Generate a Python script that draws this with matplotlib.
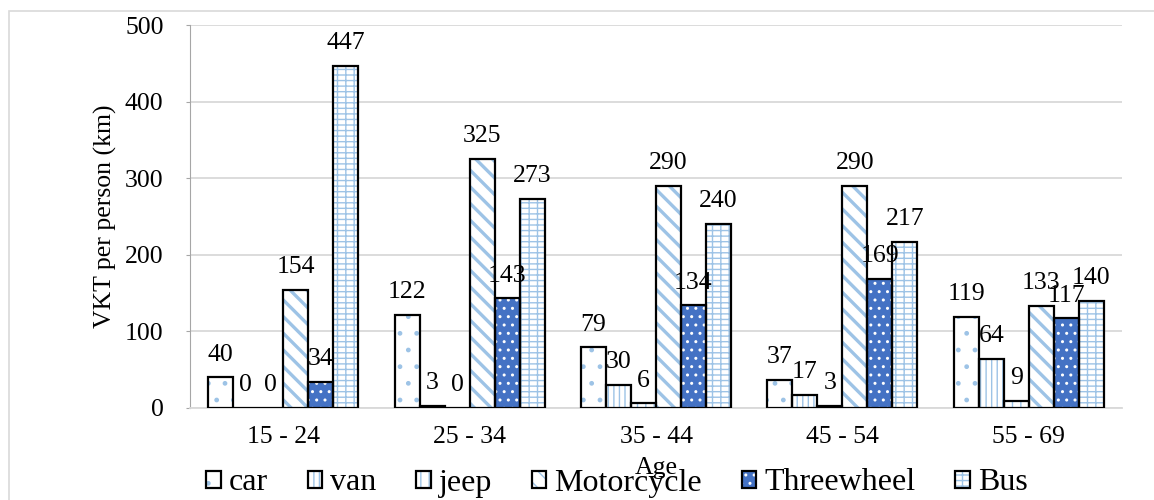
import numpy as np
import matplotlib
matplotlib.use("Agg")
import matplotlib.pyplot as plt
from matplotlib.patches import Rectangle

# Kilomètres parcourus par personne, par tranche d'âge et par mode
groupes = ["15 - 24", "25 - 34", "35 - 44", "45 - 54", "55 - 69"]
modes = ["car", "van", "jeep", "Motorcycle", "Threewheel", "Bus"]

car = [40, 122, 79, 37, 119]
van = [0, 3, 30, 17, 64]
jeep = [0, 0, 6, 3, 9]
motorcycle = [154, 325, 290, 290, 133]
threewheel = [34, 143, 134, 169, 117]
bus = [447, 273, 240, 217, 140]

series = [car, van, jeep, motorcycle, threewheel, bus]

y_ticks = [0, 100, 200, 300, 400, 500]

# remplissage, couleur du motif, motif, épaisseur du motif
BLEU_CLAIR = "#9dc3e6"
styles = [
    ("white", BLEU_CLAIR, ".", 1.0),
    ("white", BLEU_CLAIR, "|||", 1.0),
    ("white", BLEU_CLAIR, "||", 1.0),
    ("white", BLEU_CLAIR, "\\\\", 2.4),
    ("#4472c4", "white", "..", 1.0),
    ("white", BLEU_CLAIR, "---||", 1.0),
]

plt.rcParams["font.family"] = ["Liberation Serif", "DejaVu Serif"]
plt.rcParams["font.size"] = 18.5

fig = plt.figure(figsize=(11.54, 5.0), dpi=100)
ax = fig.add_axes([190 / 1154, 1 - 408 / 500, (1122 - 190) / 1154, (408 - 25) / 500])

x = np.arange(len(groupes))
w = 0.134

handles = []
for i, (valeurs, (fond, couleur, motif, lw)) in enumerate(zip(series, styles)):
    pos = x + (i - 2.5) * w
    plt.rcParams["hatch.linewidth"] = lw
    motifs = ax.bar(pos, valeurs, w, color=fond, edgecolor=couleur,
                    hatch=motif, linewidth=0, zorder=3)
    for p in motifs:
        if hasattr(p, "set_hatch_linewidth"):
            p.set_hatch_linewidth(lw)
    contours = ax.bar(pos, valeurs, w, fill=False, edgecolor="black",
                      linewidth=1.6, zorder=4)
    handles.append((motifs[0], contours[0]))
    for xi, v in zip(pos, valeurs):
        ax.annotate(str(v), (xi, v), xytext=(0, 12), textcoords="offset points",
                    ha="center", va="baseline", fontsize=18.5, zorder=5)

ax.set_xlim(-0.5, len(groupes) - 0.5)
ax.set_ylim(0, 500)
ax.set_yticks(y_ticks)
ax.set_xticks(x)
ax.set_xticklabels(groupes)

ax.grid(axis="y", color="#d9d9d9", linewidth=1.3, zorder=0)
for cote in ["top", "right"]:
    ax.spines[cote].set_visible(False)
ax.spines["left"].set_color("#a6a6a6")
ax.spines["bottom"].set_color("#d9d9d9")
ax.spines["bottom"].set_linewidth(1.3)
ax.tick_params(axis="y", length=3, color="#a6a6a6", pad=16)
ax.tick_params(axis="x", length=0, pad=13)

ax.set_ylabel("VKT per person (km)", labelpad=6)
ax.set_xlabel("Age")
ax.xaxis.set_label_coords(0.5, -0.128)

fig.legend(handles, modes, loc="center", ncol=6,
           bbox_to_anchor=(617 / 1154, 1 - 483 / 500), frameon=False,
           handlelength=0.45, handleheight=0.45, handletextpad=0.25,
           columnspacing=1.25, borderpad=0, fontsize=23)

# cadre gris clair autour du graphique
fig.patches.append(Rectangle((9 / 1154, -0.1), 1.2, 1 - 11 / 500 + 0.1,
                             transform=fig.transFigure, fill=False,
                             edgecolor="#d9d9d9", linewidth=1.2))

fig.savefig("out.png", dpi=100)
